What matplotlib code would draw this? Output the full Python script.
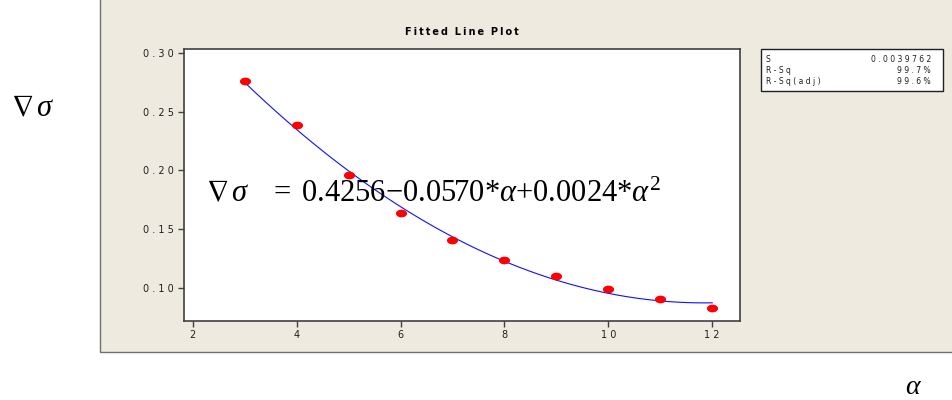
import numpy as np
import matplotlib.pyplot as plt
from matplotlib.patches import Rectangle
from matplotlib.path import Path
from matplotlib.transforms import Affine2D

# data
alpha = [3, 4, 5, 6, 7, 8, 9, 10, 11, 12]
grad_sigma = [0.2765, 0.2389, 0.1958, 0.1641, 0.1410, 0.1239, 0.1100, 0.0989, 0.0903, 0.0825]
xticks = [2, 4, 6, 8, 10, 12]
yticks = [0.10, 0.15, 0.20, 0.25, 0.30]
stats_names = ['S', 'R-Sq', 'R-Sq(adj)']
stats_vals = ['0.0039762', '99.7%', '99.6%']

beige = '#eeeae0'
dark = '#404040'

def spaced(s, gap=' '):
    return gap.join(s)

plt.rcParams['mathtext.fontset'] = 'custom'
plt.rcParams['mathtext.rm'] = 'Liberation Serif'
plt.rcParams['mathtext.it'] = 'Liberation Serif:italic'
plt.rcParams['mathtext.fallback'] = 'stix'

fig = plt.figure(figsize=(9.52, 4), dpi=100)
fig.patch.set_facecolor('white')

# minitab grey panel
panel = Rectangle((100 / 952, 1 - 352 / 400), 1.0, 352 / 400 + 0.01,
                  transform=fig.transFigure, facecolor=beige,
                  edgecolor='#707070', linewidth=1.0, zorder=-5)
fig.patches.append(panel)

ax = fig.add_axes([183.7 / 952, 1 - 320.5 / 400, (740.3 - 183.7) / 952, (320.5 - 49) / 400])
ax.set_zorder(1)
ax.set_facecolor('white')
ax.set_xlim(1.827, 12.54)
ax.set_ylim(0.0719, 0.3037)

# fitted quadratic
coef = np.polyfit(alpha, grad_sigma, 2)
xs = np.linspace(alpha[0], alpha[-1], 60)
ax.plot(xs, np.polyval(coef, xs), color='#1010ff', lw=0.8, zorder=2)

ell = Path.unit_circle().transformed(Affine2D().scale(1.0, 0.65))
ax.plot(alpha, grad_sigma, ls='none', marker=ell, ms=7, color='#ff0000',
        mec='#ff0000', zorder=3)

ax.set_xticks(xticks)
ax.set_xticklabels([spaced(str(t)) for t in xticks])
ax.set_yticks(yticks)
ax.set_yticklabels([spaced('%.2f' % t) for t in yticks])
ax.tick_params(direction='out', length=4, width=1, color=dark, labelsize=7,
               labelcolor='#202020', pad=3)
for sp in ax.spines.values():
    sp.set_color(dark)
    sp.set_linewidth(1.2)

title = '  '.join(spaced(w, '\u2009') for w in 'Fitted Line Plot'.split())
ax.set_title(title, fontsize=7, fontweight='bold', pad=10)

# stats box
sx0, sy0 = 761 / 952, 1 - 90.7 / 400
fig.patches.append(Rectangle((sx0, sy0), (943 - 761) / 952, (90.7 - 49) / 400,
                             transform=fig.transFigure, facecolor='white',
                             edgecolor='#202020', linewidth=1.0, zorder=1))
for i, (n, v) in enumerate(zip(stats_names, stats_vals)):
    yy = 1 - (59.5 + 11 * i) / 400
    fig.text(766 / 952, yy, spaced(n), fontsize=5.5, va='center', ha='left', color='#202020')
    fig.text(931 / 952, yy, spaced(v), fontsize=5.5, va='center', ha='right', color='#202020')

# equation and axis symbols
fig.text(206 / 952, 1 - 201 / 400,
         r'$\nabla\,\sigma\quad{=}\;0.4256{-}0.0570{*}\alpha{+}0.0024{*}\alpha^{2}$',
         fontsize=22, ha='left', va='baseline', color='black', zorder=5)
fig.text(33 / 952, 1 - 108 / 400, r'$\nabla\,\sigma$', fontsize=22,
         ha='center', va='center')
fig.text(914 / 952, 1 - 386 / 400, r'$\alpha$', fontsize=20, ha='center', va='center')

fig.savefig('out.png', dpi=100)
